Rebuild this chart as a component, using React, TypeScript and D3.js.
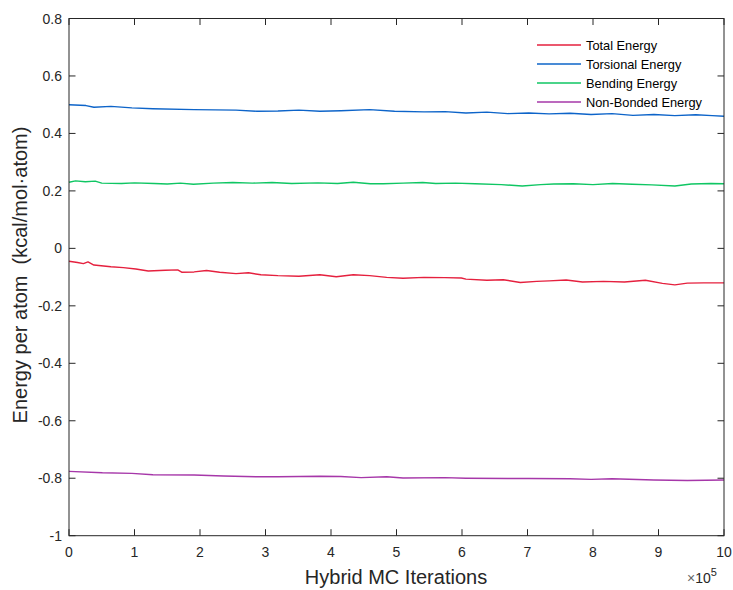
import React from "react";
import * as d3 from "d3";

const xTicks = [0, 1, 2, 3, 4, 5, 6, 7, 8, 9, 10];
const yTicks = [-1, -0.8, -0.6, -0.4, -0.2, 0, 0.2, 0.4, 0.6, 0.8];

const seriesNames = ["Total Energy", "Torsional Energy", "Bending Energy", "Non-Bonded Energy"];
const seriesColors = ["#e5203e", "#0d64c9", "#0fc663", "#a637a9"];

// x in units of 1e5 iterations
const totalX = [0, 0.13, 0.22, 0.29, 0.38, 0.64, 0.83, 1.02, 1.21, 1.47, 1.66, 1.72, 1.91, 2.1, 2.3, 2.55, 2.74, 2.93, 3.19, 3.51, 3.83, 4.08, 4.34, 4.59, 4.85, 5.1, 5.42, 5.74, 5.99, 6.06, 6.38, 6.63, 6.89, 7.14, 7.33, 7.59, 7.84, 8.16, 8.48, 8.8, 9.06, 9.25, 9.44, 9.69, 10];
const totalY = [-0.045, -0.049, -0.053, -0.047, -0.058, -0.064, -0.067, -0.072, -0.079, -0.076, -0.075, -0.083, -0.082, -0.077, -0.083, -0.088, -0.085, -0.092, -0.095, -0.097, -0.092, -0.099, -0.092, -0.095, -0.101, -0.104, -0.101, -0.102, -0.103, -0.107, -0.111, -0.109, -0.119, -0.115, -0.113, -0.11, -0.117, -0.115, -0.117, -0.111, -0.122, -0.127, -0.121, -0.12, -0.12];

const torsX = [0, 0.26, 0.38, 0.64, 0.96, 1.28, 1.91, 2.55, 2.87, 3.19, 3.51, 3.83, 4.15, 4.59, 4.97, 5.42, 5.74, 6.06, 6.38, 6.7, 7.02, 7.33, 7.65, 7.97, 8.29, 8.61, 8.93, 9.25, 9.57, 9.82, 10];
const torsY = [0.5, 0.497, 0.491, 0.494, 0.489, 0.486, 0.483, 0.481, 0.477, 0.478, 0.481, 0.477, 0.479, 0.483, 0.477, 0.475, 0.476, 0.471, 0.474, 0.469, 0.471, 0.468, 0.47, 0.466, 0.469, 0.463, 0.466, 0.462, 0.465, 0.462, 0.46];

const bendX = [0, 0.1, 0.25, 0.4, 0.5, 0.8, 1.0, 1.3, 1.5, 1.7, 1.9, 2.2, 2.5, 2.8, 3.1, 3.4, 3.8, 4.1, 4.34, 4.6, 4.8, 5.1, 5.4, 5.6, 5.9, 6.2, 6.6, 6.92, 7.2, 7.4, 7.7, 8.0, 8.3, 8.6, 8.9, 9.25, 9.5, 9.8, 10];
const bendY = [0.23, 0.235, 0.232, 0.234, 0.227, 0.226, 0.228, 0.226, 0.224, 0.227, 0.223, 0.227, 0.229, 0.227, 0.229, 0.226, 0.228, 0.226, 0.23, 0.225, 0.225, 0.227, 0.229, 0.226, 0.227, 0.225, 0.222, 0.217, 0.222, 0.224, 0.225, 0.222, 0.226, 0.223, 0.221, 0.217, 0.224, 0.226, 0.225];

const nbX = [0, 0.51, 0.96, 1.28, 1.91, 2.36, 2.87, 3.19, 3.83, 4.15, 4.46, 4.85, 5.1, 5.74, 6.06, 6.7, 7.02, 7.65, 7.97, 8.29, 8.93, 9.44, 10];
const nbY = [-0.776, -0.781, -0.783, -0.788, -0.789, -0.792, -0.795, -0.795, -0.793, -0.794, -0.798, -0.795, -0.799, -0.798, -0.8, -0.801, -0.801, -0.802, -0.804, -0.802, -0.806, -0.808, -0.806];

const seriesX = [totalX, torsX, bendX, nbX];
const seriesY = [totalY, torsY, bendY, nbY];

const W = 733;
const H = 590;
const FONT = "'Liberation Sans', Arial, Helvetica, sans-serif";
const AX = "#262626";

export default function App() {
  const x = d3.scaleLinear().domain([0, 10]).range([69, 724]);
  const y = d3.scaleLinear().domain([-1, 0.8]).range([535.7, 18.5]);
  const line = d3
    .line<[number, number]>()
    .x((d) => x(d[0]))
    .y((d) => y(d[1]));
  const fmtY = (v: number) => {
    const r = Math.round(v * 10) / 10;
    if (r === 0) return "0";
    return (r < 0 ? "-" : "") + String(Math.abs(r));
  };
  const x0 = x(0), x1 = x(10), y0 = y(-1), y1 = y(0.8);
  const tl = 6.5;
  const legendRows = [45, 64, 83, 102];

  return (
    <div style={{ position: "fixed", left: 0, top: 0 }}>
      <svg width={W} height={H} style={{ display: "block", background: "#fff" }}>
        <rect x={0} y={0} width={W} height={H} fill="#fff" />
        {seriesX.map((xs, i) => (
          <path
            key={i}
            d={line(xs.map((v, j) => [v, seriesY[i][j]] as [number, number])) || ""}
            fill="none"
            stroke={seriesColors[i]}
            strokeWidth={1.4}
            strokeLinejoin="round"
          />
        ))}
        <rect x={x0} y={y1} width={x1 - x0} height={y0 - y1} fill="none" stroke={AX} strokeWidth={1} />
        {xTicks.map((t) => (
          <g key={"xt" + t}>
            <line x1={x(t)} x2={x(t)} y1={y0} y2={y0 - tl} stroke={AX} strokeWidth={1} />
            <line x1={x(t)} x2={x(t)} y1={y1} y2={y1 + tl} stroke={AX} strokeWidth={1} />
            <text x={x(t)} y={557} textAnchor="middle" fontFamily={FONT} fontSize={14} fill={AX}>
              {t}
            </text>
          </g>
        ))}
        {yTicks.map((t) => (
          <g key={"yt" + t}>
            <line x1={x0} x2={x0 + tl} y1={y(t)} y2={y(t)} stroke={AX} strokeWidth={1} />
            <line x1={x1} x2={x1 - tl} y1={y(t)} y2={y(t)} stroke={AX} strokeWidth={1} />
            <text x={62} y={y(t) + 5} textAnchor="end" fontFamily={FONT} fontSize={14} fill={AX}>
              {fmtY(t)}
            </text>
          </g>
        ))}
        <text x={687} y={583} fontFamily={FONT} fontSize={14} fill={AX}>
          <tspan fill="#666">×</tspan>10
          <tspan dy={-7} fontSize={11}>5</tspan>
        </text>
        <text x={396} y={584} textAnchor="middle" fontFamily={FONT} fontSize={20} fill={AX}>
          Hybrid MC Iterations
        </text>
        <text
          transform={`translate(27,275) rotate(-90)`}
          textAnchor="middle"
          fontFamily={FONT}
          fontSize={20}
          fill={AX}
          style={{ whiteSpace: "pre" }}
        >
          {"Energy per atom\u00A0 (kcal/mol·atom)"}
        </text>
        {seriesNames.map((n, i) => (
          <g key={n}>
            <line x1={537} x2={581} y1={legendRows[i]} y2={legendRows[i]} stroke={seriesColors[i]} strokeWidth={1.3} />
            <text x={586} y={legendRows[i] + 4.5} fontFamily={FONT} fontSize={12.8} fill="#000">
              {n}
            </text>
          </g>
        ))}
      </svg>
    </div>
  );
}
